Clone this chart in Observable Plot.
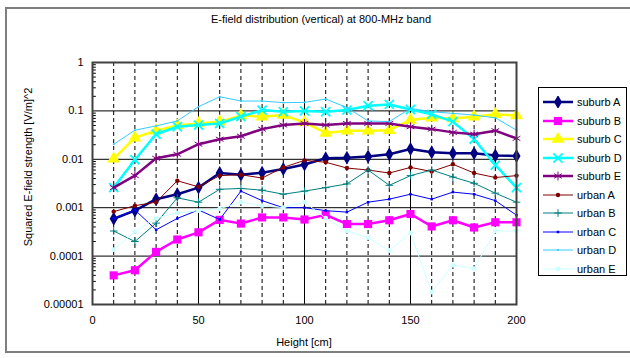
<!DOCTYPE html>
<html>
<head>
<meta charset="utf-8">
<script src="https://cdn.jsdelivr.net/npm/d3@7"></script>
<script src="https://cdn.jsdelivr.net/npm/@observablehq/plot@0.6"></script>
<style>
  body { margin:0; background:#fff; }
  #wrap { position:relative; width:630px; height:358px; overflow:hidden; font-family:"Liberation Sans", Arial, sans-serif; }
  #border { position:absolute; left:5px; top:7px; width:640px; height:346px; border:2px solid #7f7f7f; box-sizing:border-box; }
  #title { position:absolute; left:0; width:642px; top:13px; text-align:center; font-size:11px; color:#000; }
  #xlabel { position:absolute; left:92px; width:424px; top:336px; text-align:center; font-size:11px; }
  #ylabel { position:absolute; left:28px; top:167px; transform:translate(-50%,-50%) rotate(-90deg); white-space:nowrap; font-size:11px; }
  #legend { position:absolute; left:538px; top:87px; width:89px; height:189px; border:1px solid #000; background:#fff; box-sizing:border-box; padding-top:5px; }
  .row { height:18.5px; display:flex; align-items:center; font-size:11px; }
  .row svg { margin-left:3px; margin-right:3px; }
  #chart { position:absolute; left:0; top:0; }
</style>
</head>
<body>
<div id="wrap">
  <div id="border"></div>
  <div id="chart"></div>
  <div id="title">E-field distribution (vertical) at 800-MHz band</div>
  <div id="xlabel">Height [cm]</div>
  <div id="ylabel">Squared E-field strength [V/m]^2</div>
  <div id="legend"></div>
</div>
<script>
const heights = [10,20,30,40,50,60,70,80,90,100,110,120,130,140,150,160,170,180,190,200];

const suburbA = [0.00059,0.00087,0.0015,0.0019,0.0026,0.0052,0.0048,0.0053,0.0063,0.0078,0.0105,0.0108,0.0114,0.0127,0.0163,0.014,0.0133,0.0133,0.012,0.0117];
const suburbB = [0.00004,0.000051,0.000122,0.00022,0.00031,0.00056,0.00047,0.00063,0.00063,0.00057,0.00071,0.00046,0.00046,0.00055,0.00074,0.00041,0.00055,0.00039,0.0005,0.0005];
const suburbC = [0.0102,0.028,0.039,0.05,0.055,0.06,0.08,0.076,0.082,0.058,0.035,0.039,0.039,0.04,0.065,0.072,0.07,0.076,0.085,0.08];
const suburbD = [0.0026,0.0098,0.033,0.047,0.051,0.055,0.076,0.104,0.096,0.1,0.096,0.104,0.128,0.136,0.107,0.085,0.06,0.026,0.0076,0.0026];
const suburbE = [0.0026,0.0046,0.0105,0.0127,0.0205,0.026,0.03,0.042,0.051,0.055,0.051,0.055,0.055,0.055,0.047,0.042,0.036,0.033,0.039,0.027];
const urbanA = [0.00083,0.0011,0.0013,0.0036,0.0027,0.0046,0.0048,0.0041,0.0068,0.0095,0.0087,0.0066,0.006,0.0052,0.0068,0.0056,0.0079,0.0052,0.0042,0.0046];
const urbanB = [0.00033,0.0002,0.00048,0.0016,0.0013,0.0024,0.0025,0.0023,0.0019,0.0022,0.0026,0.0031,0.006,0.0029,0.0046,0.006,0.0043,0.0032,0.002,0.0013];
const urbanC = [0.0006,0.0009,0.00035,0.0006,0.0009,0.00057,0.0022,0.0014,0.001,0.001,0.00087,0.00081,0.0013,0.0015,0.0019,0.0015,0.0021,0.0019,0.0014,0.0007];
const urbanD = [0.0205,0.04,0.049,0.062,0.122,0.196,0.16,0.16,0.148,0.15,0.176,0.117,0.062,0.06,0.113,0.096,0.089,0.082,0.072,0.04];
const urbanE = [0.000136,0.00032,0.00061,0.00078,0.00087,0.00095,0.0013,0.0011,0.001,0.0013,0.00061,0.00033,0.00024,0.00013,0.0003,0.000018,0.000065,0.000055,0.00033,0.00033];

const seriesNames = ["suburb A","suburb B","suburb C","suburb D","suburb E","urban A","urban B","urban C","urban D","urban E"];
const seriesValues = [suburbA,suburbB,suburbC,suburbD,suburbE,urbanA,urbanB,urbanC,urbanD,urbanE];

const xTickValues = [0,50,100,150,200];
const xTickLabels = ["0","50","100","150","200"];
const yTickValues = [1,0.1,0.01,0.001,0.0001,0.00001];
const yTickLabels = ["1","0.1","0.01","0.001","0.0001","0.00001"];

// styles (kept separate from data)
const styles = {
  "suburb A": {color:"#000080", width:2.5, symbol:"diamond", r:4.2, fill:true},
  "suburb B": {color:"#FF00FF", width:2.5, symbol:"square", r:4.6, fill:true},
  "suburb C": {color:"#FFFF00", width:2.5, symbol:"triangle", r:4.8, fill:true},
  "suburb D": {color:"#00FFFF", width:2.5, symbol:"times", r:4.2, fill:false, sw:1.8},
  "suburb E": {color:"#800080", width:2.5, symbol:"asterisk", r:4.2, fill:false, sw:1},
  "urban A": {color:"#800000", width:1, symbol:"circle", r:2.2, fill:true},
  "urban B": {color:"#008080", width:1, symbol:"plus", r:2.6, fill:false, sw:1},
  "urban C": {color:"#0000FF", width:1, symbol:"square", r:1.4, fill:true},
  "urban D": {color:"#33CCFF", width:1, symbol:"square", r:1.0, fill:true},
  "urban E": {color:"#CCFFFF", width:1, symbol:"circle", r:2.4, fill:true}
};

const data = [];
seriesNames.forEach((name, s) => {
  heights.forEach((h, i) => data.push({series:name, h, v:seriesValues[s][i]}));
});

const dashedX = heights.filter(h => h % 50 !== 0);
const solidX = [50,100,150];
const minors = [];
for (let e = -5; e < 0; e++) for (let k = 2; k <= 9; k++) minors.push(k * Math.pow(10, e));

const seriesMarks = [];
seriesNames.forEach(name => {
  const st = styles[name];
  const d = data.filter(r => r.series === name);
  seriesMarks.push(Plot.line(d, {x:"h", y:"v", stroke:st.color, strokeWidth:st.width}));
  seriesMarks.push(Plot.dot(d, st.fill
    ? {x:"h", y:"v", symbol:st.symbol, r:st.r, fill:st.color, stroke:"none"}
    : {x:"h", y:"v", symbol:st.symbol, r:st.r, stroke:st.color, strokeWidth:st.sw, fill:"none"}));
});

const chart = Plot.plot({
  width:630, height:358,
  marginLeft:92, marginRight:114, marginTop:62, marginBottom:54,
  style:{fontFamily:"'Liberation Sans', Arial, sans-serif", fontSize:"11px", background:"transparent", color:"#000"},
  x:{domain:[0,200]},
  y:{type:"log", domain:[0.00001,1]},
  marks:[
    Plot.frame({fill:"white", stroke:"none"}),
    Plot.ruleX(dashedX, {stroke:"#000", strokeWidth:1, strokeDasharray:"4,3"}),
    Plot.ruleX(solidX, {stroke:"#000", strokeWidth:1}),
    Plot.ruleY(yTickValues, {stroke:"#000", strokeWidth:1}),
    Plot.ruleY(minors, {x1:0, x2:1.8, stroke:"#000", strokeWidth:1}),
    ...seriesMarks,
    Plot.frame({stroke:"#404040", strokeWidth:2}),
    Plot.axisX({ticks:xTickValues, tickFormat:(d) => xTickLabels[xTickValues.indexOf(d)], tickSize:0, tickPadding:12, label:null}),
    Plot.axisY({ticks:yTickValues, tickFormat:(d) => yTickLabels[yTickValues.indexOf(d)], tickSize:0, tickPadding:9, label:null})
  ]
});
document.getElementById("chart").appendChild(chart);

// legend
const legend = d3.select("#legend");
const symMap = {diamond:d3.symbolDiamond, square:d3.symbolSquare, triangle:d3.symbolTriangle, times:d3.symbolTimes, asterisk:d3.symbolAsterisk, circle:d3.symbolCircle, plus:d3.symbolPlus};
seriesNames.forEach(name => {
  const st = styles[name];
  const row = legend.append("div").attr("class","row");
  const svg = row.append("svg").attr("width",32).attr("height",12);
  svg.append("line").attr("x1",1).attr("x2",31).attr("y1",6).attr("y2",6).attr("stroke",st.color).attr("stroke-width",st.width);
  const size = Math.PI * st.r * st.r;
  const p = svg.append("path").attr("d", d3.symbol(symMap[st.symbol], size)()).attr("transform","translate(16,6)");
  if (st.fill) p.attr("fill", st.color); else p.attr("fill","none").attr("stroke",st.color).attr("stroke-width",st.sw);
  row.append("span").text(name);
});
</script>
</body>
</html>
